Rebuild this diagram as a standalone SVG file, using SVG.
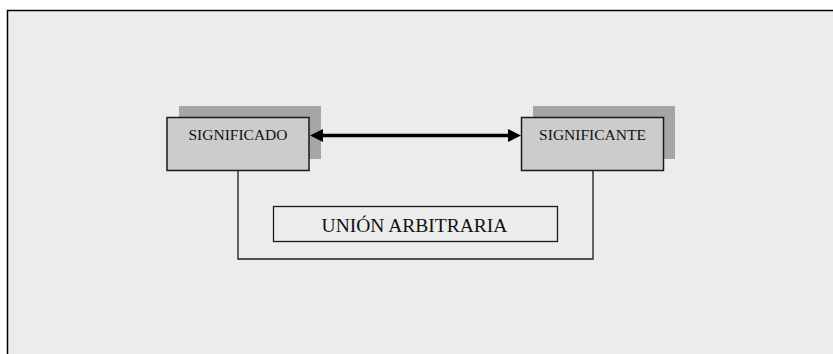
<svg xmlns="http://www.w3.org/2000/svg" width="833" height="354" viewBox="0 0 833 354">
<style>
.bg{fill:#ececec;stroke:#000;stroke-width:1.5}
.shadow{fill:#a6a6a6;stroke:none}
.box{fill:#cccccc;stroke:#1a1a1a;stroke-width:1.5}
.t{font-family:"Liberation Serif","Times New Roman",serif;fill:#111;text-anchor:middle}
.line{fill:none;stroke:#1a1a1a;stroke-width:1.3}
.head{fill:#000}
</style>
<rect x="0" y="0" width="833" height="354" fill="#ffffff"/>
<rect class="bg" x="7.5" y="10.5" width="830" height="350"/>
<g id="significado">
<rect class="shadow" x="179" y="106" width="142" height="53"/>
<rect class="box" x="167" y="117.5" width="142" height="53"/>
<text class="t" x="238" y="140" font-size="15.5">SIGNIFICADO</text>
</g>
<g id="significante">
<rect class="shadow" x="533" y="106" width="142" height="53"/>
<rect class="box" x="521.5" y="117.5" width="142" height="53"/>
<text class="t" x="592.5" y="140" font-size="15.5">SIGNIFICANTE</text>
</g>
<g id="union">
<rect fill="none" stroke="#1a1a1a" stroke-width="1.3" x="273.5" y="206.5" width="284" height="35"/>
<text class="t" x="414.5" y="232" font-size="19.5">UNIÓN ARBITRARIA</text>
</g>
<g id="connectors">
<line x1="320" y1="135.5" x2="511" y2="135.5" stroke="#000" stroke-width="3.5"/>
<polygon class="head" points="310,135.5 323,129 323,142"/>
<polygon class="head" points="521,135.5 508,129 508,142"/>
<polyline class="line" points="238,171 238,259 593,259 593,171"/>
</g>
</svg>
